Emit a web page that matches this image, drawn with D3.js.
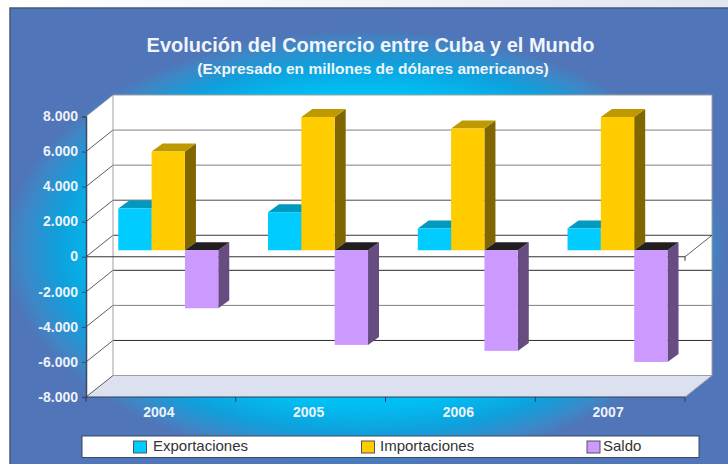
<!DOCTYPE html>
<html>
<head>
<meta charset="utf-8">
<script src="https://d3js.org/d3.v7.min.js"></script>
<style>
  html, body { margin: 0; padding: 0; background: #fff; overflow: hidden; }
  text { font-family: "Liberation Sans", Arial, sans-serif; }
</style>
</head>
<body>
<div id="chart"></div>
<script>
// Data
const years = ["2004", "2005", "2006", "2007"];
const seriesNames = ["Exportaciones", "Importaciones", "Saldo"];
const exportaciones = [2380, 2170, 1240, 1240];
const importaciones = [5630, 7600, 6940, 7600];
const saldo = [-3310, -5400, -5740, -6370];
const yTicks = [8000, 6000, 4000, 2000, 0, -2000, -4000, -6000, -8000];

const width = 728;
const height = 464;

// Plot box on the front plane, and the 3D depth
const plot = { left: 86, right: 685, top: 116.5, bottom: 397 };
const depth = { dx: 27, dy: -21.5 };
const barDepth = { dx: 11, dy: -8 };
const barShift = { dx: 7.4, dy: -6.5 }; // bars sit part way into the box

const colors = {
  Exportaciones: { front: "#00ccff", top: "#0099bf", side: "#006680" },
  Importaciones: { front: "#ffcc00", top: "#bf9900", side: "#806600" },
  Saldo: { front: "#cc99ff", top: "#231f20", side: "#664c80" }
};

const x = d3.scaleBand().domain(years).range([plot.left, plot.right]);
const y = d3.scaleLinear().domain([-8000, 8000]).range([plot.bottom, plot.top]);
const xSeries = d3.scaleBand().domain(seriesNames).range([0, 100]);

const svg = d3.select("#chart").append("svg")
  .attr("width", width).attr("height", height)
  .style("display", "block");

// --- background ---
const defs = svg.append("defs");
const pageGrad = defs.append("linearGradient").attr("id", "pageBg");
pageGrad.append("stop").attr("offset", "0").attr("stop-color", "#ffffff");
pageGrad.append("stop").attr("offset", "1").attr("stop-color", "#e2e6f1");

const glow = defs.append("radialGradient").attr("id", "glow")
  .attr("gradientUnits", "userSpaceOnUse")
  .attr("cx", 0).attr("cy", 0).attr("r", 1)
  .attr("gradientTransform", "translate(365,248) scale(362,218)");
[[0, "#00c0f5"], [0.72, "#00bff3"], [0.85, "#0fa0dc"], [0.95, "#3f86c6"], [1, "#5075b8"]].forEach(s => {
  glow.append("stop").attr("offset", s[0]).attr("stop-color", s[1]);
});

svg.append("rect").attr("width", width).attr("height", height).attr("fill", "url(#pageBg)");
svg.append("rect")
  .attr("x", 10).attr("y", 8).attr("width", width).attr("height", height)
  .attr("fill", "url(#glow)")
  .attr("stroke", "#4a5a78").attr("stroke-width", 1.5);

// --- titles ---
svg.append("text").attr("x", 370.5).attr("y", 52)
  .attr("text-anchor", "middle").attr("fill", "#f0f4fb")
  .style("font-size", "20px").style("font-weight", "bold")
  .text("Evolución del Comercio entre Cuba y el Mundo");
svg.append("text").attr("x", 373).attr("y", 74)
  .attr("text-anchor", "middle").attr("fill", "#f0f4fb")
  .style("font-size", "15.5px").style("font-weight", "bold")
  .text("(Expresado en millones de dólares americanos)");

// --- 3D box ---
const poly = pts => pts.map(p => p.join(",")).join(" ");
const back = { left: plot.left + depth.dx, right: plot.right + depth.dx,
  top: plot.top + depth.dy, bottom: plot.bottom + depth.dy };

svg.append("polygon") // left wall + back wall
  .attr("points", poly([[plot.left, plot.top], [back.left, back.top], [back.right, back.top],
    [back.right, back.bottom], [plot.right, plot.bottom], [plot.left, plot.bottom]]))
  .attr("fill", "#ffffff");
svg.append("polygon") // floor
  .attr("points", poly([[plot.left, plot.bottom], [back.left, back.bottom],
    [back.right, back.bottom], [plot.right, plot.bottom]]))
  .attr("fill", "#dce1ef");

// Back wall grid lines and the diagonals on the left wall
const gridColor = d3.scaleOrdinal().domain(yTicks)
  .range(["#a0a0a0", "#808080", "#808080", "#4a4a4a", "#3a3a3a", "#2a2a2a", "#808080", "#2a2a2a", "#a0a0a0"]);

yTicks.forEach(t => {
  svg.append("line")
    .attr("x1", back.left).attr("x2", back.right)
    .attr("y1", y(t) + depth.dy).attr("y2", y(t) + depth.dy)
    .attr("stroke", gridColor(t)).attr("stroke-width", 1);
  svg.append("line")
    .attr("x1", plot.left).attr("x2", back.left)
    .attr("y1", y(t)).attr("y2", y(t) + depth.dy)
    .attr("stroke", t === 8000 ? "#a0a0a0" : "#333").attr("stroke-width", 0.8);
});
svg.append("line") // back wall left edge
  .attr("x1", back.left).attr("x2", back.left).attr("y1", back.top).attr("y2", back.bottom)
  .attr("stroke", "#a0a0a0");
svg.append("line") // back wall right edge
  .attr("x1", back.right).attr("x2", back.right).attr("y1", back.top).attr("y2", back.bottom)
  .attr("stroke", "#a0a0a0");
svg.append("line") // floor right edge
  .attr("x1", plot.right).attr("x2", back.right).attr("y1", plot.bottom).attr("y2", back.bottom)
  .attr("stroke", "#a0a0a0");

// Zero plane lines, behind the bars
svg.append("line")
  .attr("x1", plot.left).attr("x2", plot.right).attr("y1", y(0)).attr("y2", y(0))
  .attr("stroke", "#333").attr("stroke-width", 1);
svg.append("line")
  .attr("x1", plot.right).attr("x2", back.right).attr("y1", y(0)).attr("y2", y(0) + depth.dy)
  .attr("stroke", "#333").attr("stroke-width", 0.8);
svg.append("line")
  .attr("x1", plot.right).attr("x2", plot.right).attr("y1", y(0)).attr("y2", y(0) + 4)
  .attr("stroke", "#333");

// --- bars ---
const zeroY = y(0) + barShift.dy;
const bars = [];
years.forEach((year, i) => {
  const groupLeft = x(year) + x.bandwidth() / 2 + barShift.dx - 50;
  [exportaciones, importaciones, saldo].forEach((values, s) => {
    const name = seriesNames[s];
    bars.push({
      name,
      x0: groupLeft + xSeries(name),
      x1: groupLeft + xSeries(name) + xSeries.bandwidth(),
      y0: zeroY,
      yv: y(values[i]) + barShift.dy
    });
  });
});

const dx = barDepth.dx, dy = barDepth.dy;
bars.forEach(b => {
  const c = colors[b.name];
  const topY = Math.min(b.y0, b.yv);
  const botY = Math.max(b.y0, b.yv);
  const g = svg.append("g");
  g.append("polygon") // side
    .attr("points", poly([[b.x1, topY], [b.x1 + dx, topY + dy], [b.x1 + dx, botY + dy], [b.x1, botY]]))
    .attr("fill", c.side);
  g.append("polygon") // top
    .attr("points", poly([[b.x0, topY], [b.x0 + dx, topY + dy], [b.x1 + dx, topY + dy], [b.x1, topY]]))
    .attr("fill", c.top);
  g.append("rect") // front
    .attr("x", b.x0).attr("y", topY)
    .attr("width", b.x1 - b.x0).attr("height", botY - topY)
    .attr("fill", c.front);
});

// --- axes ---
const yAxis = d3.axisLeft(y).tickValues(yTicks)
  .tickFormat(d => d3.format(",")(d).replace(/,/g, ".").replace("−", "-"))
  .tickSize(4).tickPadding(4);
const yG = svg.append("g").attr("transform", `translate(${plot.left},0)`).call(yAxis);
yG.select(".domain").attr("stroke", "#3a4a60").attr("stroke-width", 1.5);
yG.selectAll(".tick line").attr("stroke", "#3a4a60");
yG.selectAll("text").attr("fill", "#eef2fa").attr("dy", "0.3em")
  .style("font-size", "14px").style("font-weight", "bold")
  .style("font-family", '"Liberation Sans", Arial, sans-serif');

const xAxis = d3.axisBottom(x).tickSize(0).tickPadding(10);
const xG = svg.append("g").attr("transform", `translate(-2,${plot.bottom})`).call(xAxis);
xG.select(".domain").remove();
xG.selectAll("text").attr("fill", "#eef2fa")
  .style("font-size", "14px").style("font-weight", "bold")
  .style("font-family", '"Liberation Sans", Arial, sans-serif');

svg.append("line") // floor front edge
  .attr("x1", plot.left).attr("x2", plot.right).attr("y1", plot.bottom).attr("y2", plot.bottom)
  .attr("stroke", "#2f3f58").attr("stroke-width", 1);
years.concat("end").forEach((year, i) => {
  const tx = plot.left + i * x.bandwidth();
  svg.append("line")
    .attr("x1", tx).attr("x2", tx).attr("y1", plot.bottom).attr("y2", plot.bottom + 5)
    .attr("stroke", "#2f3f58").attr("stroke-width", 1);
});

// --- legend ---
const legendX = [133.5, 361.5, 587];
const legendTextX = [153, 380, 603];
svg.append("rect")
  .attr("x", 82).attr("y", 436).attr("width", 617).attr("height", 21.5)
  .attr("fill", "#fff").attr("stroke", "#3a4a60").attr("stroke-width", 1);
seriesNames.forEach((name, i) => {
  svg.append("rect")
    .attr("x", legendX[i]).attr("y", 441).attr("width", 13).attr("height", 12)
    .attr("fill", colors[name].front).attr("stroke", "#555").attr("stroke-width", 1);
  svg.append("text")
    .attr("x", legendTextX[i]).attr("y", 450.5)
    .attr("fill", "#333").style("font-size", "15px")
    .text(name);
});
</script>
</body>
</html>
